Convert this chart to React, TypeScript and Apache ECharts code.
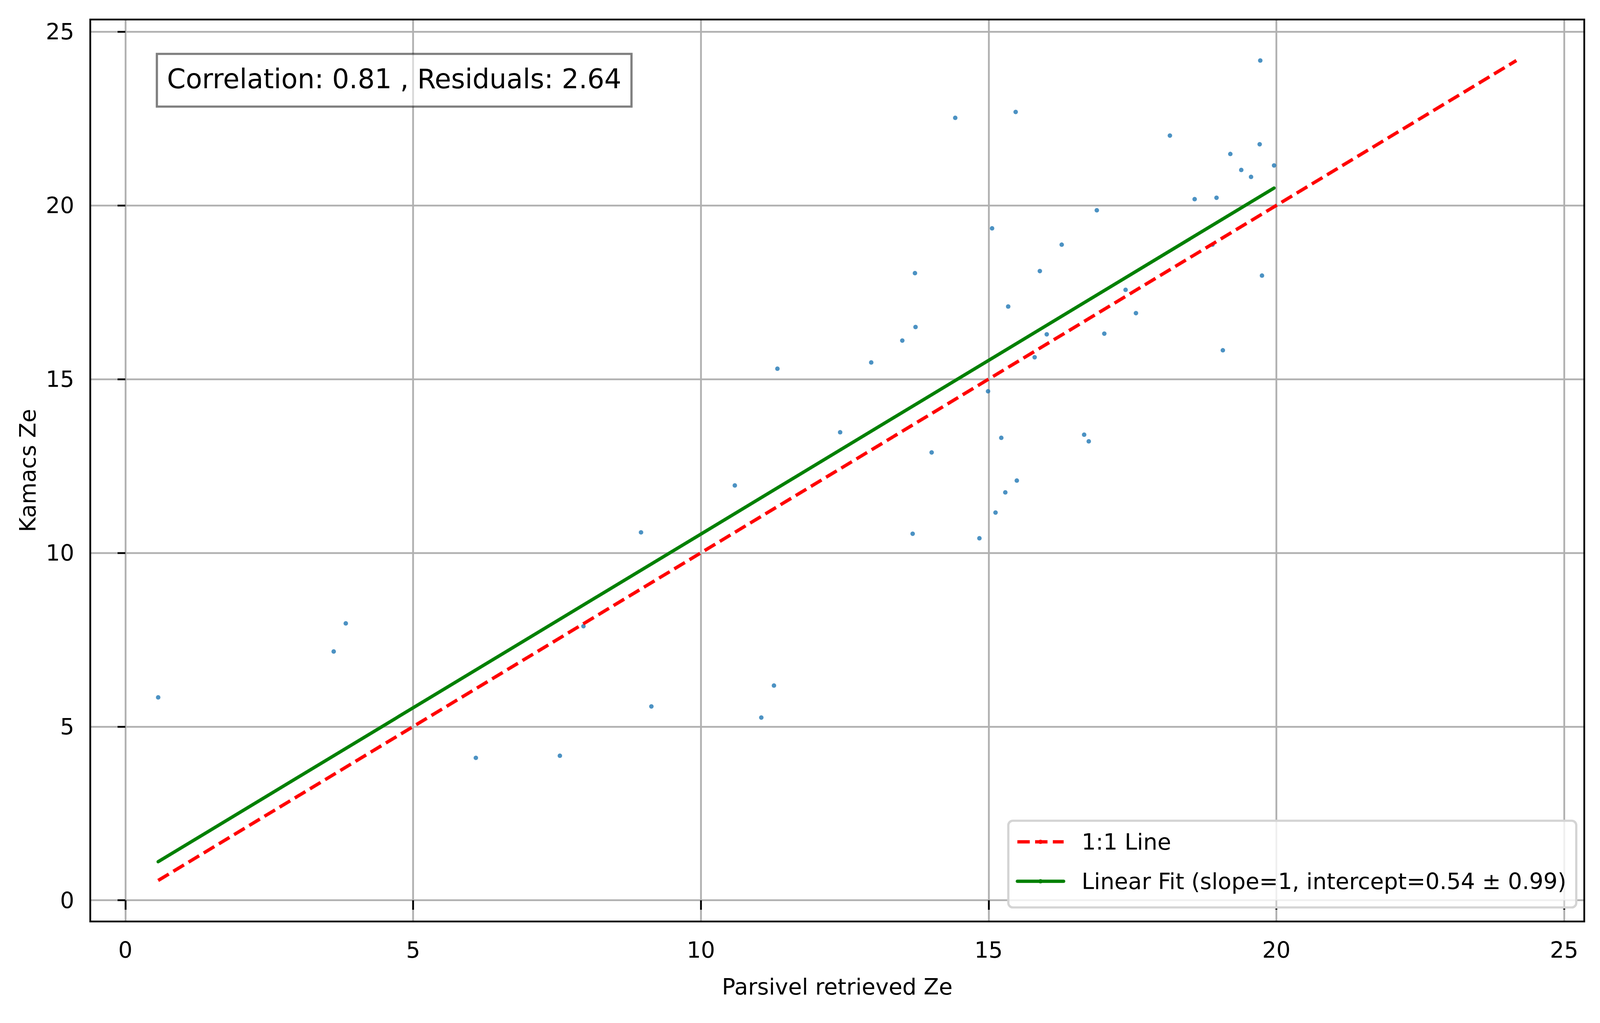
import React, { useEffect, useRef } from 'react';
import * as echarts from 'echarts';

// Scatter values
const parsivelZe = [
  0.57, 3.62, 3.83, 6.09, 7.55, 7.96, 8.96, 9.14, 10.59, 11.05, 11.27, 11.33, 12.42,
  12.96, 13.5, 13.68, 13.72, 13.73, 14.01, 14.42, 14.84, 14.99, 15.06, 15.12, 15.22,
  15.29, 15.34, 15.47, 15.49, 15.8, 15.89, 16.01, 16.27, 16.66, 16.74, 16.88, 17.01,
  17.38, 17.56, 18.15, 18.58, 18.89, 18.96, 19.07, 19.2, 19.39, 19.56, 19.71, 19.72,
  19.75, 19.96,
];
const kamacsZe = [
  5.84, 7.16, 7.97, 4.1, 4.16, 7.89, 10.59, 5.58, 11.94, 5.26, 6.18, 15.3, 13.47,
  15.48, 16.11, 10.55, 18.05, 16.5, 12.89, 22.52, 10.42, 14.65, 19.34, 11.16, 13.31,
  11.74, 17.09, 22.69, 12.08, 15.63, 18.11, 16.29, 18.87, 13.4, 13.21, 19.86, 16.31,
  17.57, 16.9, 22.01, 20.18, 18.87, 20.22, 15.83, 21.48, 21.02, 20.82, 21.76, 24.17,
  17.98, 21.15,
];

const FIT_SLOPE = 1;
const FIT_INTERCEPT = 0.54;
const FIT_INTERCEPT_ERR = 0.99;
const CORRELATION = 0.81;
const RESIDUALS = 2.64;

const tickValues = [0, 5, 10, 15, 20, 25];
const X_LABEL = 'Parsivel retrieved Ze';
const Y_LABEL = 'Kamacs Ze';
const ONE_TO_ONE_NAME = '1:1 Line';
const FIT_NAME = `Linear Fit (slope=${FIT_SLOPE}, intercept=${FIT_INTERCEPT} ± ${FIT_INTERCEPT_ERR})`;
const STATS_TEXT = `Correlation: ${CORRELATION} , Residuals: ${RESIDUALS}`;

const REF_W = 4981;
const REF_H = 2620;
const FONT = 'DejaVu Sans';

export default function App() {
  const ref = useRef<HTMLDivElement>(null);

  useEffect(() => {
    if (!ref.current) return;
    const chart = echarts.init(ref.current, undefined, { renderer: 'svg' });
    const kx = (ref.current.clientWidth || window.innerWidth) / REF_W;
    const ky = (ref.current.clientHeight || window.innerHeight) / REF_H;
    const PT = 500 / 72; // reference pixels per point
    const X = (v: number) => v * kx;
    const Y = (v: number) => v * ky;

    const all = parsivelZe.concat(kamacsZe);
    const lo = Math.min(...all);
    const hi = Math.max(...all);
    const pad = 0.05 * (hi - lo);
    const axMin = lo - pad;
    const axMax = hi + pad;

    const xMin = Math.min(...parsivelZe);
    const xMax = Math.max(...parsivelZe);

    const scatterData = parsivelZe.map((x, i) => [x, kamacsZe[i]]);
    const oneToOne = [
      [lo, lo],
      [hi, hi],
    ];
    const fitLine = [
      [xMin, FIT_SLOPE * xMin + FIT_INTERCEPT],
      [xMax, FIT_SLOPE * xMax + FIT_INTERCEPT],
    ];

    const tickFont = X(10 * PT);
    const lineW = X(1.5 * PT);
    const thinW = X(0.8 * PT);
    const common = {
      type: 'value',
      min: axMin,
      max: axMax,
      axisLine: { show: false },
      splitLine: { show: true, lineStyle: { color: '#b0b0b0', width: thinW } },
      nameTextStyle: { fontFamily: FONT, fontSize: tickFont, color: '#000' },
      nameLocation: 'middle',
    };

    chart.setOption({
      animation: false,
      backgroundColor: '#fff',
      textStyle: { fontFamily: FONT },
      grid: {
        show: true,
        z: 5,
        left: X(281),
        right: X(49),
        top: Y(50),
        bottom: Y(260),
        backgroundColor: 'transparent',
        borderColor: '#000',
        borderWidth: thinW,
      },
      title: {
        text: STATS_TEXT,
        left: X(488),
        top: Y(138),
        padding: [Y(14), X(32), Y(21), X(32)],
        backgroundColor: 'rgba(255,255,255,0.5)',
        borderColor: 'rgba(0,0,0,0.5)',
        borderWidth: X(PT),
        textStyle: {
          fontFamily: FONT,
          fontSize: X(12 * PT),
          fontWeight: 'normal',
          color: '#000',
          lineHeight: Y(100),
        },
      },
      legend: {
        orient: 'vertical',
        left: X(3139),
        top: Y(2102),
        padding: [Y(14), X(31), Y(27), X(23)],
        itemWidth: X(144),
        itemHeight: Y(14),
        itemGap: Y(21),
        backgroundColor: 'rgba(255,255,255,0.8)',
        borderColor: '#d4d4d4',
        borderWidth: X(PT),
        borderRadius: X(14),
        lineStyle: { width: lineW },
        textStyle: {
          fontFamily: FONT,
          fontSize: tickFont,
          color: '#000',
          lineHeight: Y(80),
          padding: [0, 0, 0, X(50)],
        },
        data: [ONE_TO_ONE_NAME, FIT_NAME],
      },
      xAxis: {
        ...common,
        name: X_LABEL,
        nameGap: Y(138),
        axisTick: {
          show: true,
          inside: false,
          length: Y(3.5 * PT),
          customValues: tickValues,
          lineStyle: { color: '#000', width: thinW },
        },
        axisLabel: {
          margin: Y(44),
          customValues: tickValues,
          fontFamily: FONT,
          fontSize: tickFont,
          color: '#000',
        },
      },
      yAxis: {
        ...common,
        name: Y_LABEL,
        nameGap: X(160),
        axisTick: {
          show: true,
          inside: false,
          length: X(3.5 * PT),
          customValues: tickValues,
          lineStyle: { color: '#000', width: thinW },
        },
        axisLabel: {
          margin: X(50),
          customValues: tickValues,
          fontFamily: FONT,
          fontSize: tickFont,
          color: '#000',
        },
      },
      series: [
        {
          type: 'scatter',
          name: 'data',
          data: scatterData,
          symbol: 'circle',
          symbolSize: X(14),
          itemStyle: { color: '#1f77b4' },
          z: 1,
        },
        {
          type: 'line',
          name: ONE_TO_ONE_NAME,
          data: oneToOne,
          symbol: 'none',
          showSymbol: false,
          lineStyle: { color: '#ff0000', width: lineW, type: [X(5.55 * PT), X(2.4 * PT)] },
          itemStyle: { color: '#ff0000' },
          z: 2,
        },
        {
          type: 'line',
          name: FIT_NAME,
          data: fitLine,
          symbol: 'none',
          showSymbol: false,
          lineStyle: { color: '#008000', width: lineW, cap: 'round' },
          itemStyle: { color: '#008000' },
          z: 3,
        },
      ],
    });

    return () => chart.dispose();
  }, []);

  return (
    <div
      ref={ref}
      style={{ position: 'fixed', left: 0, top: 0, width: '100vw', height: '100vh' }}
    />
  );
}
